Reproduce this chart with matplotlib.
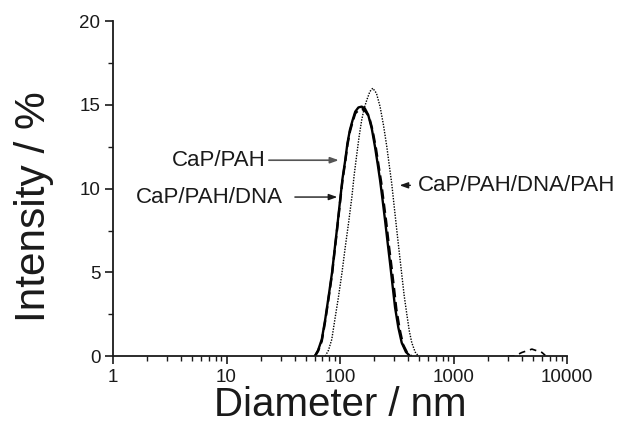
import matplotlib
matplotlib.use("Agg")
import matplotlib.pyplot as plt
from matplotlib.ticker import LogLocator, MultipleLocator, NullFormatter

plt.rcParams["font.family"] = ["Liberation Sans", "DejaVu Sans"]

# CaP/PAH (solid)
d_pah = [60, 64, 69, 74, 79, 85, 90, 95, 100, 105, 111, 116, 122, 129, 136, 145, 155,
         165, 177, 190, 203, 214, 225, 237, 249, 262, 276, 290, 305, 326, 349, 380, 414]
i_pah = [0, 0.35, 1.0, 2.2, 3.5, 5.0, 6.5, 7.9, 9.3, 10.6, 11.7, 12.7, 13.5, 14.1, 14.6, 14.85, 14.9,
         14.8, 14.4, 13.6, 12.5, 11.5, 10.5, 9.3, 8.1, 6.8, 5.5, 4.2, 2.9, 1.7, 0.8, 0.25, 0]

# CaP/PAH/DNA (dashed)
d_dna = [60, 64, 69, 74, 79, 85, 90, 95, 100, 105, 111, 116, 122, 129, 136, 146, 158,
         168, 180, 193, 207, 218, 230, 242, 255, 268, 283, 298, 313, 335, 358, 390, 425]
i_dna = [0, 0.3, 0.9, 2.1, 3.4, 4.9, 6.4, 7.8, 9.2, 10.5, 11.6, 12.6, 13.4, 14.0, 14.5, 14.7, 14.75,
         14.6, 14.3, 13.5, 12.4, 11.4, 10.4, 9.2, 8.0, 6.7, 5.4, 4.1, 2.8, 1.6, 0.7, 0.2, 0]
d_dna_big = [3000, 3480, 3990, 4890, 5990, 6400]
i_dna_big = [0, 0.02, 0.22, 0.42, 0.22, 0.05]

# CaP/PAH/DNA/PAH (dotted)
d_pdp = [74, 79, 84.5, 90, 96.6, 104, 111, 119, 127, 133, 140, 147, 155, 163, 172, 183, 194,
         209, 225, 241, 258, 271, 285, 300, 316, 332, 349, 367, 387, 407, 428, 458, 490]
i_pdp = [0, 0.35, 1.0, 2.2, 3.5, 5.0, 6.5, 8.0, 9.5, 10.8, 12.0, 13.1, 14.1, 14.8, 15.3, 15.8, 16.0,
         15.7, 14.9, 13.8, 12.5, 11.4, 10.3, 8.9, 7.5, 6.2, 4.9, 3.6, 2.5, 1.5, 0.8, 0.25, 0]

xticks = [1, 10, 100, 1000, 10000]
xticklabels = ["1", "10", "100", "1000", "10000"]
yticks = [0, 5, 10, 15, 20]

ink = "#1a1a1a"

fig = plt.figure(figsize=(6.24, 4.24), dpi=100)
ax = fig.add_axes([0.181, 0.160, 0.728, 0.790])

ax.plot(d_pah, i_pah, color="black", lw=1.7, ls="-")
ax.plot(d_dna, i_dna, color="black", lw=1.7, ls=(0, (4, 2)))
ax.plot(d_dna_big, i_dna_big, color="black", lw=1.2, ls=(0, (4, 3)))
ax.plot(d_pdp, i_pdp, color="black", lw=1.0, ls=(0, (1, 1)))

ax.set_xscale("log")
ax.set_xlim(1, 10000)
ax.set_ylim(0, 20)
ax.set_xticks(xticks)
ax.set_xticklabels(xticklabels)
ax.xaxis.set_minor_locator(LogLocator(base=10, subs=range(2, 10)))
ax.xaxis.set_minor_formatter(NullFormatter())
ax.set_yticks(yticks)
ax.yaxis.set_minor_locator(MultipleLocator(2.5))

for s in ["top", "right"]:
    ax.spines[s].set_visible(False)
for s in ["left", "bottom"]:
    ax.spines[s].set_color(ink)
    ax.spines[s].set_linewidth(1.3)
ax.tick_params(which="major", direction="out", length=6, width=1.2, colors=ink,
               labelsize=13.5, pad=3)
ax.tick_params(which="minor", direction="out", length=3.5, width=1.0, colors=ink)

# axis titles placed as in the reference
fig.text(340 / 624, 1 - 416 / 424, "Diameter / nm", fontsize=29, color=ink,
         ha="center", va="baseline")
fig.text(34 / 624, 1 - 207 / 424, "Intensity / %", fontsize=30.5, color=ink,
         ha="center", va="center", rotation=90)

# labels with arrows
head = "-|>,head_length=0.5,head_width=0.18"
ax.text(22.3, 11.7, "CaP/PAH", fontsize=16, ha="right", va="center", color=ink)
ax.annotate("", xy=(103, 11.7), xytext=(22.3, 11.7),
            arrowprops=dict(arrowstyle=head, color="#555555", lw=1.2))
ax.text(31.5, 9.45, "CaP/PAH/DNA", fontsize=16, ha="right", va="center", color=ink)
ax.annotate("", xy=(100, 9.5), xytext=(37.8, 9.5),
            arrowprops=dict(arrowstyle=head, color=ink, lw=1.0))
ax.text(487, 10.2, "CaP/PAH/DNA/PAH", fontsize=16, ha="left", va="center", color=ink)
ax.annotate("", xy=(316, 10.2), xytext=(440, 10.2),
            arrowprops=dict(arrowstyle=head, color=ink, lw=1.0))

fig.savefig("out.png", dpi=100)
